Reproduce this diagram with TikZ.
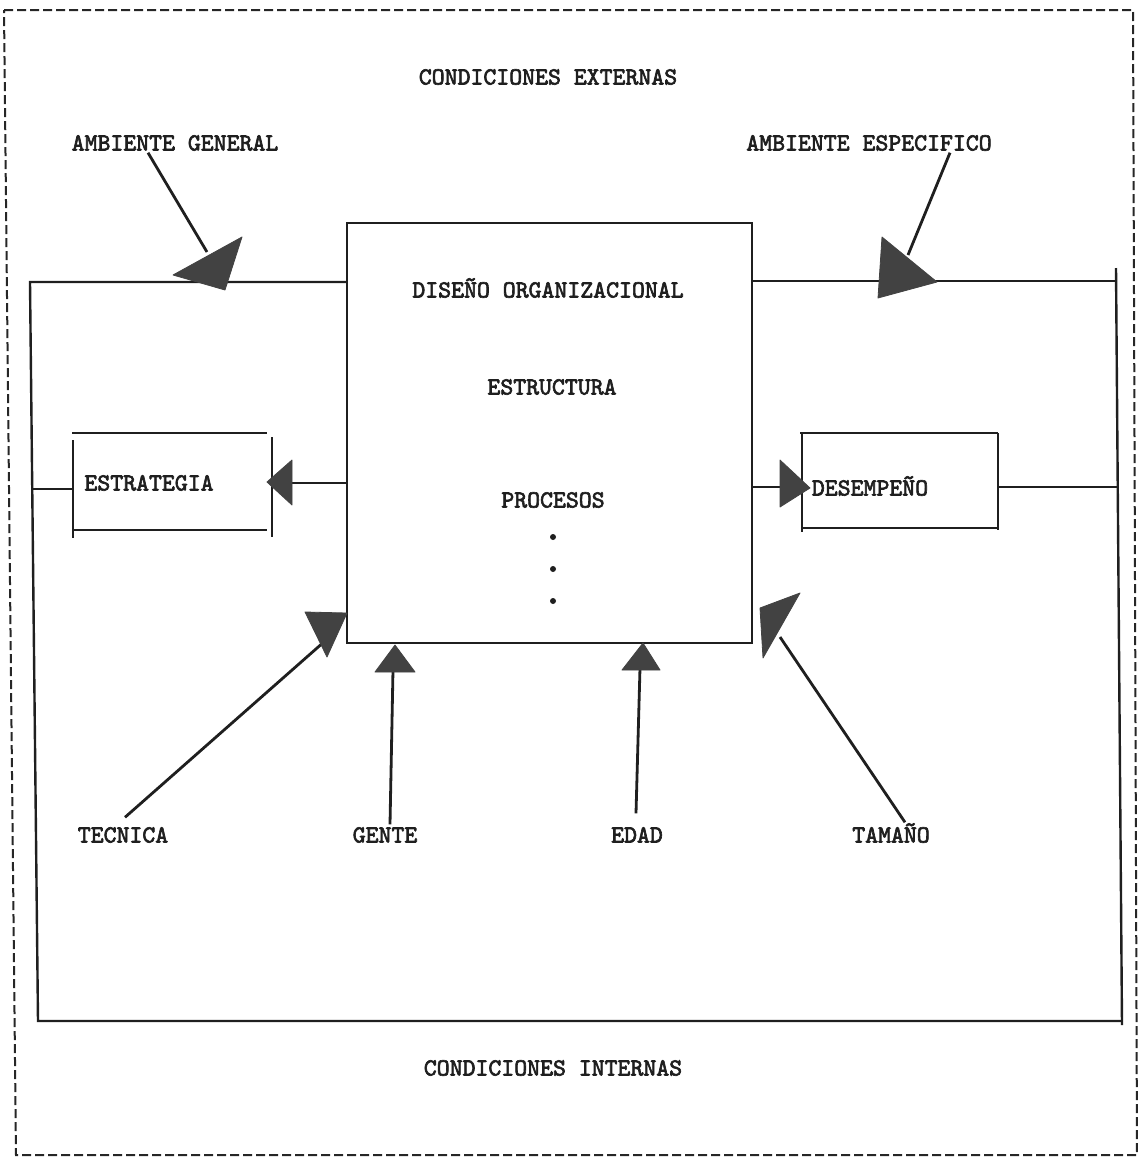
\documentclass[tikz,border=0pt]{standalone}
\usepackage{fontspec}
\newfontfamily\typer{lmmono10-regular.otf}[FakeBold=2.6]
\usetikzlibrary{calc}
\begin{document}
\begin{tikzpicture}[x=1pt,y=-1pt,
  lbl/.style={font=\typer\fontsize{24.6}{26}\selectfont, inner sep=0pt, text height=15pt, text depth=0pt, text=black!88},
  wire/.style={line width=2.4pt, draw=black!88},
  lead/.style={line width=2.8pt, draw=black!88},
  head/.style={fill=black!74, draw=black!74, line width=0.8pt, line join=round},
  frame/.style={line width=2pt, draw=black!85, dash pattern=on 9pt off 4pt},
  dot/.style={circle, fill=black!88, inner sep=0pt, minimum size=6pt}]
\useasboundingbox (0,0) rectangle (1138,1157);

% outer dashed frame
\draw[frame] (4,10) -- (1133,10) -- (1137,1155) -- (16,1155) -- cycle;

% titles
\node[lbl] (ext) at (548,77) {CONDICIONES EXTERNAS};
\node[lbl] (int) at (553,1068) {CONDICIONES INTERNAS};
\node[lbl] (ambg) at (175,143) {AMBIENTE GENERAL};
\node[lbl] (ambe) at (869,143) {AMBIENTE ESPECIFICO};

% central block
\node[draw=black!88, line width=2.4pt, minimum width=405pt, minimum height=420pt, inner sep=0pt] (main) at (549.5,433) {};
\node[lbl] (dis) at (548,290) {DISEÑO ORGANIZACIONAL};
\node[lbl] (est) at (552,387) {ESTRUCTURA};
\node[lbl] (pro) at (553,500) {PROCESOS};
\node[dot] (d1) at (553,537) {};
\node[dot] (d2) at (553,569) {};
\node[dot] (d3) at (553,601) {};

% side blocks
\node[minimum width=200pt, minimum height=97pt, inner sep=0pt] (estr) at (172,483) {};
\draw[wire] (72,433) -- (267,433);
\draw[wire] (72,530) -- (267,530);
\draw[wire] (73,440) -- (73,538);
\draw[wire] (272,437) -- (272,537);
\node[lbl] (estrl) at (149,483) {ESTRATEGIA};

\node[minimum width=196pt, minimum height=95pt, inner sep=0pt] (desm) at (900,481) {};
\draw[wire] (800,433) -- (998,433);
\draw[wire] (802,528) -- (997,528);
\draw[wire] (802,433) -- (802,532);
\draw[wire] (998,433) -- (998,530);
\node[lbl] (desml) at (870,488) {DESEMPEÑO};

% environment loop
\coordinate (lt) at (30,282);
\coordinate (lb) at (38,1021);
\coordinate (rb) at (1122,1021);
\coordinate (rbe) at (1122,1025);
\coordinate (rtt) at (1116,268);
\coordinate (rt) at (1117,281);
\draw[wire] (main.west |- lt) -- (lt) -- (lb) -- (rb);
\draw[wire] (rbe) -- (rtt);
\draw[wire] (main.east |- rt) -- (rt);

% connectors to and from the side blocks
\coordinate (sl) at (33,489);
\coordinate (sr) at (1118,487);
\coordinate (dl) at (780,487);
\draw[wire] (sl) -- (estr.west |- sl);
\draw[wire] (main.west |- estr.east) -- (292,483);
\fill[head] (267,482) -- (292,460) -- (292,505) -- cycle;
\draw[wire] (main.east |- dl) -- (dl);
\fill[head] (810,488) -- (780,460) -- (780,507) -- cycle;
\draw[wire] (desm.east |- sr) -- (sr);

% external conditions
\draw[lead] ($(ambg.south)+(-27,2)$) -- (207,252);
\fill[head] (173,275) -- (242,237) -- (225,290) -- cycle;
\draw[lead] ($(ambe.south)+(81,2)$) -- (908,255);
\fill[head] (882,237) -- (878,298) -- (937,282) -- cycle;

% internal conditions
\node[lbl] (tec) at (123,835) {TECNICA};
\node[lbl] (gen) at (385,835) {GENTE};
\node[lbl] (eda) at (637,835) {EDAD};
\node[lbl] (tam) at (891,835) {TAMAÑO};

\draw[lead] ($(tec.north)+(2,-10)$) -- (325,641);
\fill[head] (305,612) -- (347,613) -- (327,657) -- cycle;
\draw[lead] ($(gen.north)+(5,-3)$) -- (393,670);
\fill[head] (395,645) -- (375,672) -- (415,672) -- cycle;
\draw[lead] ($(eda.north)+(-1,-14)$) -- (640,668);
\fill[head] (643,643) -- (622,670) -- (660,670) -- cycle;
\draw[lead] ($(tam.north)+(14,-5)$) -- (780,637);
\fill[head] (760,608) -- (800,593) -- (763,658) -- cycle;
\end{tikzpicture}
\end{document}
